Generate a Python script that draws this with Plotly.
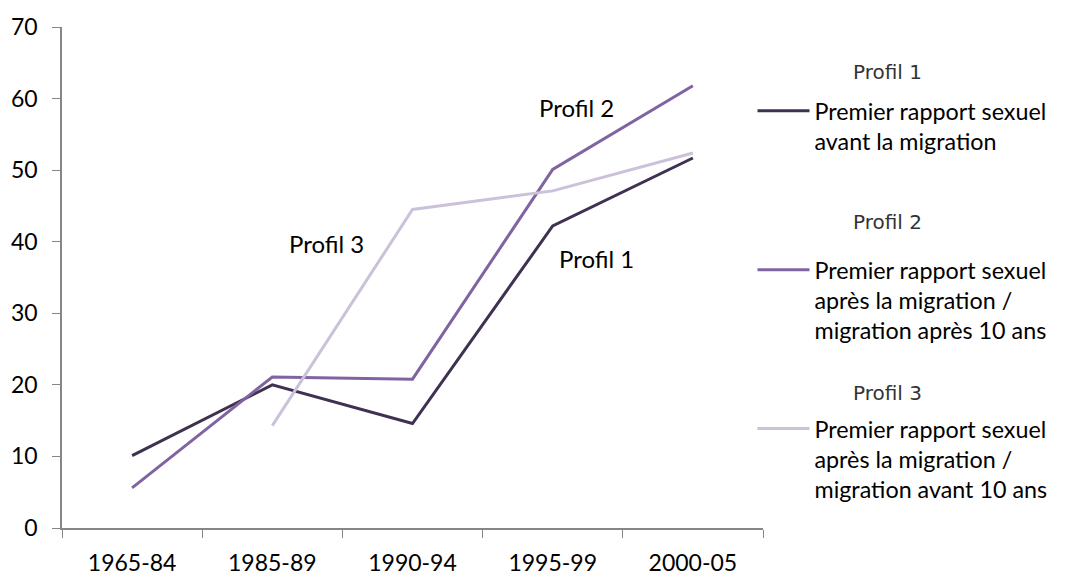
import plotly.graph_objects as go

categories = ["1965-84", "1985-89", "1990-94", "1995-99", "2000-05"]
profil1 = [10.1, 20.0, 14.6, 42.2, 51.7]
profil2 = [5.6, 21.1, 20.8, 50.1, 61.8]
profil3 = [None, 14.3, 44.5, 47.1, 52.4]
names = [
    "Premier rapport sexuel<br>avant la migration<br>\u00a0",
    "Premier rapport sexuel<br>après la migration /<br>migration après 10 ans",
    "Premier rapport sexuel<br>après la migration /<br>migration avant 10 ans",
]
group_titles = ["Profil 1", "Profil 2", "Profil 3"]
header_y = [0.910, 0.611, 0.269]
colors = ["#3F3151", "#8064A2", "#CCC1DA"]
series = [profil1, profil2, profil3]

fig = go.Figure()
for vals, name, gt, col in zip(series, names, group_titles, colors):
    fig.add_trace(go.Scatter(
        x=categories, y=vals, mode="lines", name=name,
        line=dict(color=col, width=3),
        legendgroup=gt,
        connectgaps=False,
    ))

# legend group headers
for gt, hy in zip(group_titles, header_y):
    fig.add_annotation(x=1.178, y=hy, xref="paper", yref="paper", text=gt,
                       showarrow=False, xanchor="center", yanchor="middle",
                       font=dict(family="DejaVu Sans", size=20, color="#333333"))

ann_font = dict(family="Lato, sans-serif", size=24, color="black")
fig.add_annotation(x="1995-99", y=58.7, text="Profil 2", showarrow=False,
                   xshift=24, font=ann_font)
fig.add_annotation(x="1985-89", y=39.7, text="Profil 3", showarrow=False,
                   xshift=54, font=ann_font)
fig.add_annotation(x="1995-99", y=37.6, text="Profil 1", showarrow=False,
                   xshift=44, font=ann_font)

fig.update_layout(
    width=1059, height=572,
    margin=dict(l=54, r=304, t=19, b=52),
    paper_bgcolor="white", plot_bgcolor="white",
    font=dict(family="Lato, sans-serif", size=23, color="black"),
    legend=dict(x=0.985, y=0.876, xanchor="left", yanchor="top",
                valign="top", tracegroupgap=65,
                font=dict(family="Lato, sans-serif", size=23.3),
                itemwidth=52),
    xaxis=dict(type="category", range=[-0.5, 4.5], tickson="boundaries",
               showline=True, linecolor="#868686", linewidth=1.5,
               ticks="outside", ticklen=8, tickcolor="#868686",
               showgrid=False, zeroline=False, automargin=False,
               ticklabelstandoff=14),
    yaxis=dict(range=[0, 70], dtick=10, showline=True, linecolor="#868686",
               linewidth=1.5, ticks="outside", ticklen=8, tickcolor="#868686",
               showgrid=False, zeroline=False, automargin=False,
               ticklabelstandoff=10),
)

fig.write_html("out.html")
